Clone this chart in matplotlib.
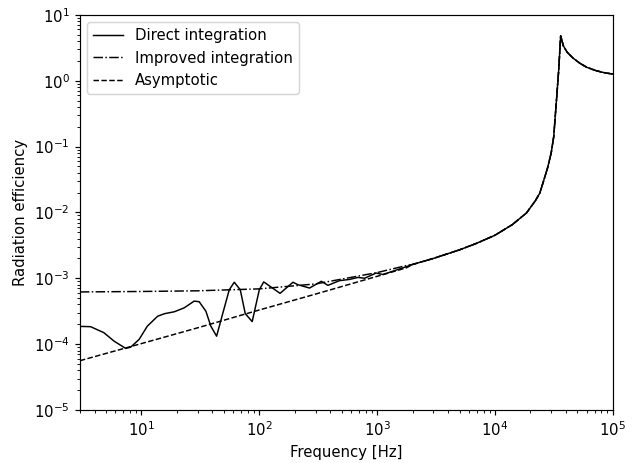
import numpy as np
import matplotlib
matplotlib.use('Agg')
import matplotlib.pyplot as plt

# Frequencies/values (low-frequency part, per series)
freq_direct_lo = [3, 3.7, 4.8, 5.85, 7.35, 8.1, 9.55, 11.2, 13.7, 15.7, 19, 23, 28, 30.9,
                  35.2, 38.8, 43.4, 47.8, 55.6, 61.3, 68.9, 76, 87, 100, 109, 150, 193,
                  212, 267, 336, 382, 479, 583, 687, 782, 980, 1120, 1360, 1770]
sigma_direct_lo = [1.86e-4, 1.84e-4, 1.49e-4, 1.11e-4, 8.6e-5, 9.0e-5, 1.18e-4, 1.87e-4,
                   2.65e-4, 2.9e-4, 3.1e-4, 3.55e-4, 4.5e-4, 4.4e-4, 3.16e-4, 1.87e-4,
                   1.32e-4, 2.5e-4, 6.7e-4, 8.7e-4, 6.7e-4, 2.9e-4, 2.2e-4, 6.7e-4,
                   8.8e-4, 5.9e-4, 8.7e-4, 8.0e-4, 7.1e-4, 9.0e-4, 7.8e-4, 9.2e-4,
                   9.6e-4, 1.03e-3, 1.0e-3, 1.2e-3, 1.14e-3, 1.28e-3, 1.5e-3]

freq_improved_lo = [3, 10, 30, 100, 300, 1000, 1770]
sigma_improved_lo = [6.2e-4, 6.3e-4, 6.45e-4, 6.9e-4, 8.2e-4, 1.22e-3, 1.56e-3]

freq_asym_lo = [3, 10, 30, 100, 300, 1000, 1770]
sigma_asym_lo = [5.6e-5, 1.02e-4, 1.77e-4, 3.3e-4, 5.75e-4, 1.07e-3, 1.44e-3]

# High-frequency part where all three curves coincide
freq_hi = [2000, 3000, 5000, 7000, 1e4, 1.4e4, 1.85e4, 2.2e4, 2.4e4, 2.6e4, 2.8e4,
           3.0e4, 3.15e4, 3.3e4, 3.47e4, 3.61e4, 3.8e4, 4.1e4, 4.6e4, 5.25e4, 6e4,
           7.2e4, 8.5e4, 1e5]
sigma_hi = [1.62e-3, 2.0e-3, 2.7e-3, 3.4e-3, 4.5e-3, 6.5e-3, 9.8e-3, 0.015, 0.0196,
            0.031, 0.048, 0.08, 0.14, 0.42, 1.4, 4.8, 3.4, 2.7, 2.2, 1.84, 1.6,
            1.42, 1.32, 1.26]

f_direct = np.concatenate([freq_direct_lo, freq_hi])
s_direct = np.concatenate([sigma_direct_lo, sigma_hi])
f_improved = np.concatenate([freq_improved_lo, freq_hi])
s_improved = np.concatenate([sigma_improved_lo, sigma_hi])
f_asym = np.concatenate([freq_asym_lo, freq_hi])
s_asym = np.concatenate([sigma_asym_lo, sigma_hi])

# reference looks like it was rendered at ~107 dpi
fig = plt.figure(figsize=(639 / 107, 463 / 107), dpi=107)
ax = fig.add_subplot(111)
fig.subplots_adjust(left=0.125, right=0.959, top=0.968, bottom=0.1145)

ax.loglog(f_direct, s_direct, 'k-', lw=1, label='Direct integration')
ax.loglog(f_improved, s_improved, 'k-.', lw=1, label='Improved integration')
ax.loglog(f_asym, s_asym, 'k--', lw=1, label='Asymptotic')

ax.set_xlim(3, 1e5)
ax.set_ylim(1e-5, 1e1)
ax.set_xlabel('Frequency [Hz]')
ax.set_ylabel('Radiation efficiency')
ax.legend(loc='upper left')

plt.savefig('out.png', dpi=107)
